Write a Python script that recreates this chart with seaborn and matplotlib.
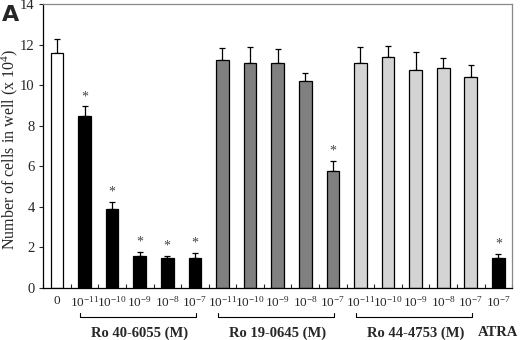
import matplotlib
matplotlib.use("Agg")
import matplotlib.pyplot as plt
import matplotlib.transforms as mtransforms
import seaborn as sns
import pandas as pd

# ---- data ----
categories = ["0",
              "Ro40_11", "Ro40_10", "Ro40_9", "Ro40_8", "Ro40_7",
              "Ro19_11", "Ro19_10", "Ro19_9", "Ro19_8", "Ro19_7",
              "Ro44_11", "Ro44_10", "Ro44_9", "Ro44_8", "Ro44_7",
              "ATRA_7"]
tick_labels = ["0",
               "-11", "-10", "-9", "-8", "-7",
               "-11", "-10", "-9", "-8", "-7",
               "-11", "-10", "-9", "-8", "-7",
               "-7"]
values = [11.58,
          8.48, 3.88, 1.58, 1.50, 1.50,
          11.28, 11.12, 11.10, 10.20, 5.80,
          11.10, 11.40, 10.75, 10.85, 10.42,
          1.50]
err_top = [12.28,
           8.98, 4.26, 1.79, 1.59, 1.74,
           11.87, 11.92, 11.80, 10.60, 6.27,
           11.90, 11.95, 11.67, 11.37, 11.03,
           1.68]
significant = [False,
               True, True, True, True, True,
               False, False, False, False, True,
               False, False, False, False, False,
               True]
bar_colors = ["#ffffff"] + ["#000000"] * 5 + ["#808080"] * 5 + ["#d4d4d4"] * 5 + ["#000000"]
groups = [("Ro 40-6055 (M)", 1, 5), ("Ro 19-0645 (M)", 6, 10), ("Ro 44-4753 (M)", 11, 15)]
ylabel = "Number of cells in well (x 10$^4$)"

# ---- plot ----
sns.set_style("white")
plt.rcParams["font.family"] = ["Liberation Serif", "DejaVu Serif"]
plt.rcParams["mathtext.fontset"] = "custom"
plt.rcParams["mathtext.rm"] = "Liberation Serif"
plt.rcParams["mathtext.it"] = "Liberation Serif:italic"
plt.rcParams["mathtext.bf"] = "Liberation Serif:bold"

fig = plt.figure(figsize=(5.2, 3.4), dpi=100)
ax = fig.add_axes([0.083, 0.153, 0.902, 0.834])

df = pd.DataFrame({"cat": categories, "val": values})
sns.barplot(data=df, x="cat", y="val", hue="cat", order=categories,
            palette=dict(zip(categories, bar_colors)), legend=False,
            width=0.46, edgecolor="black", linewidth=0.9, ax=ax, zorder=2)

xs = list(range(len(categories)))
lower = [0] * len(values)
upper = [t - v for t, v in zip(err_top, values)]
ax.errorbar(xs, values, yerr=[lower, upper], fmt="none", ecolor="black",
            elinewidth=0.9, capsize=2.5, capthick=0.9, zorder=1)

for x, t, s in zip(xs, err_top, significant):
    if s:
        ax.text(x, t + 0.15, "*", ha="center", va="bottom", fontsize=10, color="#444444")

ax.set_ylim(0, 14)
ax.set_xlim(-0.5, 16.45)
ax.set_yticks(range(0, 15, 2))
ax.set_xticks(xs)
ax.set_xticklabels(["0" if t == "0" else r"$\mathregular{10^{%s}}$" % t for t in tick_labels],
                   fontsize=9.5)
ax.set_xticks([i + 0.5 for i in range(-1, 17)], minor=True)
ax.tick_params(axis="x", which="major", length=0, pad=5, bottom=True)
ax.tick_params(axis="x", which="minor", direction="in", length=3, width=0.8, bottom=True)
ax.tick_params(axis="y", direction="out", length=3, width=0.8, labelsize=10.5, left=True, pad=3)
ax.set_xlabel("")
ax.set_ylabel(ylabel, fontsize=11.5)
ax.yaxis.set_label_coords(-0.05, 0.49)

for side in ["left", "bottom"]:
    ax.spines[side].set_color("black")
    ax.spines[side].set_linewidth(0.9)
for side in ["top", "right"]:
    ax.spines[side].set_color("#888888")
    ax.spines[side].set_linewidth(0.9)

trans = mtransforms.blended_transform_factory(ax.transData, ax.transAxes)
yb = -0.101
for name, a, b in groups:
    x0, x1 = a - 0.15, b + 0.05
    ax.plot([x0, x0, x1, x1], [yb + 0.012, yb, yb, yb + 0.012], color="black",
            lw=0.8, transform=trans, clip_on=False)
    ax.text((a + b) / 2, -0.158, name, transform=trans, ha="center", va="center",
            fontsize=10.5, fontweight="bold")
ax.text(16, -0.158, "ATRA", transform=trans, ha="center", va="center",
        fontsize=10.5, fontweight="bold")

fig.text(0.004, 0.955, "A", fontsize=16, fontweight="bold", family="DejaVu Sans",
         ha="left", va="center")

fig.savefig("out.png", dpi=100)
